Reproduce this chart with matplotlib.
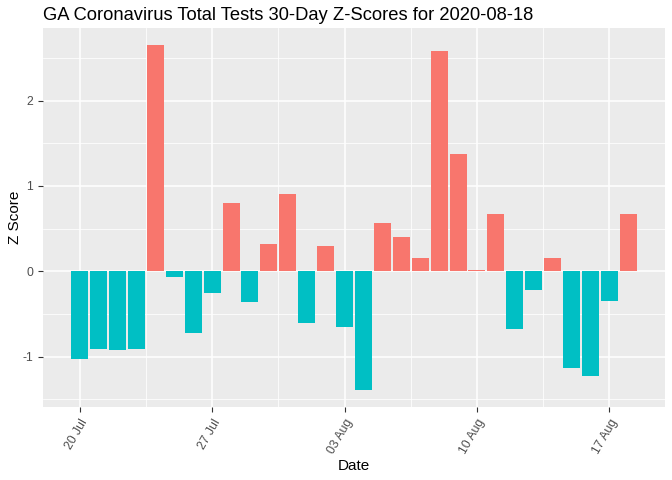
import matplotlib
matplotlib.use("Agg")
import matplotlib.pyplot as plt
import matplotlib.dates as mdates
import numpy as np
import pandas as pd

plt.rcParams['font.family'] = ['Liberation Sans', 'DejaVu Sans']

dates = pd.date_range("2020-07-20", "2020-08-18", freq="D")
z_scores = [-1.03, -0.91, -0.92, -0.91, 2.65, -0.07, -0.73, -0.26, 0.80, -0.36,
            0.32, 0.90, -0.61, 0.30, -0.65, -1.39, 0.57, 0.40, 0.15, 2.58,
            1.37, 0.02, 0.67, -0.68, -0.22, 0.15, -1.13, -1.23, -0.35, 0.67]
tick_dates = pd.to_datetime(["2020-07-20", "2020-07-27", "2020-08-03", "2020-08-10", "2020-08-17"])

x = mdates.date2num(dates)
z = np.array(z_scores)
colors = np.where(z > 0, "#F8766D", "#00BFC4")

fig = plt.figure(figsize=(6.72, 4.8), dpi=100)
ax = fig.add_axes([43 / 672, 1 - 407 / 480, (665 - 43) / 672, (407 - 28) / 480])
ax.set_facecolor("#EBEBEB")

# grid like ggplot: major + minor lines
for yv in [-1.5, -0.5, 0.5, 1.5, 2.5]:
    ax.axhline(yv, color="white", lw=0.55, zorder=0)
for yv in [-1, 0, 1, 2]:
    ax.axhline(yv, color="white", lw=1.1, zorder=0)
xt = mdates.date2num(tick_dates)
for xv in xt:
    ax.axvline(xv, color="white", lw=1.1, zorder=0)
for xv in xt[:-1] + 3.5:
    ax.axvline(xv, color="white", lw=0.55, zorder=0)

ax.bar(x, z, width=0.9, color=colors, zorder=2)

span = (x[-1] + 0.45) - (x[0] - 0.45)
ax.set_xlim(x[0] - 0.45 - 0.05 * span, x[-1] + 0.45 + 0.05 * span)
ymin, ymax = z.min(), z.max()
ax.set_ylim(ymin - 0.05 * (ymax - ymin), ymax + 0.05 * (ymax - ymin))

ax.set_xticks(xt)
ax.set_xticklabels([d.strftime("%d %b") for d in tick_dates], rotation=60,
                   ha="right", va="top", rotation_mode="anchor")
ax.set_yticks([-1, 0, 1, 2])
ax.set_yticklabels(["-1", "0", "1", "2"])
ax.tick_params(colors="#333333", labelcolor="#4D4D4D", labelsize=8.8, length=3.5, width=0.8)
for s in ax.spines.values():
    s.set_visible(False)

ax.set_xlabel("Date", fontsize=11, labelpad=2)
ax.set_ylabel("Z Score", fontsize=11, labelpad=0.5)
ax.set_title("GA Coronavirus Total Tests 30-Day Z-Scores for 2020-08-18",
             fontsize=13.2, loc="left", pad=6)

fig.savefig("out.png", dpi=100)
